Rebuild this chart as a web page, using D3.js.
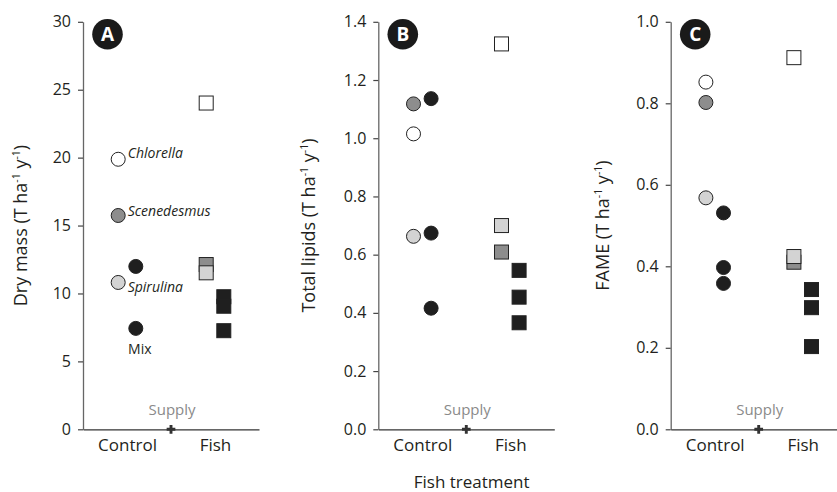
<!DOCTYPE html>
<html>
<head>
<meta charset="utf-8">
<script src="https://cdn.jsdelivr.net/npm/d3@7"></script>
<style>
  html, body { margin: 0; padding: 0; background: #fff; }
  svg { display: block; font-family: "Open Sans", "Noto Sans", sans-serif; }
</style>
</head>
<body>
<svg id="chart" width="837" height="492"></svg>
<script>
// Treatments on the x axis and the microalgae grown in each pond
const treatments = ["Control", "Fish"];
const monoStrains = ["Chlorella", "Scenedesmus", "Spirulina"];
const mixStrain = "Mix";

// Panel A: dry mass (T ha-1 y-1)
const dryMassMono = { Control: [19.88, 15.74, 10.81], Fish: [24.02, 12.13, 11.52] };
const dryMassMix  = { Control: [11.99, 7.43],        Fish: [9.76, 9.06, 7.26] };
const dryMassTicks = [0, 5, 10, 15, 20, 25, 30];

// Panel B: total lipids (T ha-1 y-1)
const lipidsMono = { Control: [1.015, 1.118, 0.663], Fish: [1.324, 0.609, 0.700] };
const lipidsMix  = { Control: [1.136, 0.674, 0.416], Fish: [0.546, 0.454, 0.366] };
const lipidsTicks = [0, 0.2, 0.4, 0.6, 0.8, 1.0, 1.2, 1.4];

// Panel C: FAME (T ha-1 y-1)
const fameMono = { Control: [0.852, 0.802, 0.568], Fish: [0.912, 0.410, 0.424] };
const fameMix  = { Control: [0.531, 0.397, 0.358], Fish: [0.343, 0.2985, 0.203] };
const fameTicks = [0, 0.2, 0.4, 0.6, 0.8, 1.0];

const supplyLabel = "Supply";
const xTitle = "Fish treatment";

// Fill of each culture
const strainFill = {
  Chlorella: "#ffffff",
  Scenedesmus: "#8d8d8d",
  Spirulina: "#d3d3d3",
  Mix: "#1f1f1f"
};

const svg = d3.select("#chart");
const ink = "#231f20";

const panels = [
  { letter: "A", left: 83,    title: "Dry mass", domain: [0, 30],  ticks: dryMassTicks, fmt: d3.format("d"),
    mono: dryMassMono, mix: dryMassMix, titleX: 27, labels: true },
  { letter: "B", left: 378.3, title: "Total lipids", domain: [0, 1.4], ticks: lipidsTicks, fmt: d3.format(".1f"),
    mono: lipidsMono, mix: lipidsMix, titleX: 315, labels: false },
  { letter: "C", left: 670.7, title: "FAME", domain: [0, 1.0], ticks: fameTicks, fmt: d3.format(".1f"),
    mono: fameMono, mix: fameMix, titleX: 609, labels: false }
];

const plotW = 176;
const yBottom = 429.3, yTop = 21.8;
const r = 7, sq = 14;

panels.forEach(p => {
  const g = svg.append("g").attr("transform", `translate(${p.left},0)`);

  // Control at 1, Fish at 2, nutrient supply between them
  const x = d3.scaleLinear().domain([0.5, 2.5]).range([0, plotW]);
  const pos = t => treatments.indexOf(t) + 1;
  const y = d3.scaleLinear().domain(p.domain).range([yBottom, yTop]);

  // y axis
  const yAxis = g.append("g")
    .call(d3.axisLeft(y).tickValues(p.ticks).tickFormat(p.fmt).tickSize(5).tickPadding(7).tickSizeOuter(0));
  yAxis.select(".domain").attr("stroke", "#666").attr("stroke-width", 1.3);
  yAxis.selectAll(".tick line").attr("stroke", "#444").attr("stroke-width", 1.2);
  yAxis.selectAll("text").attr("font-size", 16).attr("fill", ink).attr("font-family", "Open Sans");

  // x axis with treatment names
  const xAxis = g.append("g").attr("transform", `translate(0,${yBottom})`)
    .call(d3.axisBottom(x).tickValues([1, 2]).tickFormat(d => treatments[d - 1]).tickSize(0).tickPadding(10).tickSizeOuter(0));
  xAxis.select(".domain").attr("stroke", "#333").attr("stroke-width", 1.3);
  xAxis.selectAll("text").attr("font-size", 17).attr("fill", ink).attr("font-family", "Open Sans");

  // y axis title with superscripts
  const tt = g.append("text")
    .attr("transform", `translate(${p.titleX - p.left},${(yBottom + yTop) / 2}) rotate(-90)`)
    .attr("text-anchor", "middle")
    .attr("font-size", 18)
    .attr("fill", ink);
  tt.append("tspan").text(`${p.title} (T ha`);
  tt.append("tspan").attr("font-size", 10.5).attr("dy", -7).text("-1");
  tt.append("tspan").attr("dy", 7).text(" y");
  tt.append("tspan").attr("font-size", 10.5).attr("dy", -7).text("-1");
  tt.append("tspan").attr("dy", 7).text(")");

  // nutrient supply marker and label
  g.append("path")
    .attr("d", d3.symbol(d3.symbolCross, 42)())
    .attr("transform", `translate(${x(1.5)},${yBottom})`)
    .attr("fill", "#333");
  g.append("text")
    .attr("x", x(1.5) + 1).attr("y", yBottom - 14)
    .attr("text-anchor", "middle")
    .attr("font-size", 15)
    .attr("fill", "#8a8a8a")
    .text(supplyLabel);

  // points: single strains left of the treatment, mixes right of it
  const pts = [];
  treatments.forEach(t => {
    p.mono[t].forEach((v, i) => pts.push({ t, strain: monoStrains[i], v, off: -0.1 }));
    p.mix[t].forEach(v => pts.push({ t, strain: mixStrain, v, off: 0.1 }));
  });

  const ctrl = pts.filter(d => d.t === "Control");
  const fish = pts.filter(d => d.t === "Fish");

  g.selectAll("circle.pt").data(ctrl).join("circle")
    .attr("class", "pt")
    .attr("cx", d => x(pos(d.t) + d.off))
    .attr("cy", d => y(d.v))
    .attr("r", r)
    .attr("fill", d => strainFill[d.strain])
    .attr("stroke", "#222")
    .attr("stroke-width", 1);

  g.selectAll("rect.pt").data(fish).join("rect")
    .attr("class", "pt")
    .attr("x", d => x(pos(d.t) + d.off) - sq / 2)
    .attr("y", d => y(d.v) - sq / 2)
    .attr("width", sq).attr("height", sq)
    .attr("fill", d => strainFill[d.strain])
    .attr("stroke", "#222")
    .attr("stroke-width", 1);

  // strain names next to the control points
  if (p.labels) {
    const lab = [
      { strain: "Chlorella",   dx: 9.5, dy: -1,   anchor: "start" },
      { strain: "Scenedesmus", dx: 9.5, dy: 0.5,  anchor: "start" },
      { strain: "Spirulina",   dx: 9.5, dy: 10,   anchor: "start" },
      { strain: "Mix",         dx: 4,   dy: 25.5, anchor: "middle" }
    ];
    lab.forEach(l => {
      const pt = l.strain === mixStrain
        ? ctrl.filter(d => d.strain === mixStrain).sort((a, b) => a.v - b.v)[0]
        : ctrl.find(d => d.strain === l.strain);
      g.append("text")
        .attr("x", x(pos(pt.t) + pt.off) + l.dx)
        .attr("y", y(pt.v) + l.dy)
        .attr("text-anchor", l.anchor)
        .attr("font-size", 14)
        .attr("font-style", l.strain === mixStrain ? "normal" : "italic")
        .attr("fill", ink)
        .text(l.strain);
    });
  }

  // panel letter badge
  g.append("circle").attr("cx", 24.5).attr("cy", 34.3).attr("r", 15.3).attr("fill", "#1a1a1a");
  g.append("text")
    .attr("x", 24.5).attr("y", 34.3)
    .attr("dy", "0.36em")
    .attr("text-anchor", "middle")
    .attr("font-size", 19)
    .attr("font-weight", "bold")
    .attr("fill", "#fff")
    .text(p.letter);
});

// shared x title
svg.append("text")
  .attr("x", 471.7).attr("y", 487.5)
  .attr("text-anchor", "middle")
  .attr("font-size", 17)
  .attr("fill", ink)
  .text(xTitle);
</script>
</body>
</html>
